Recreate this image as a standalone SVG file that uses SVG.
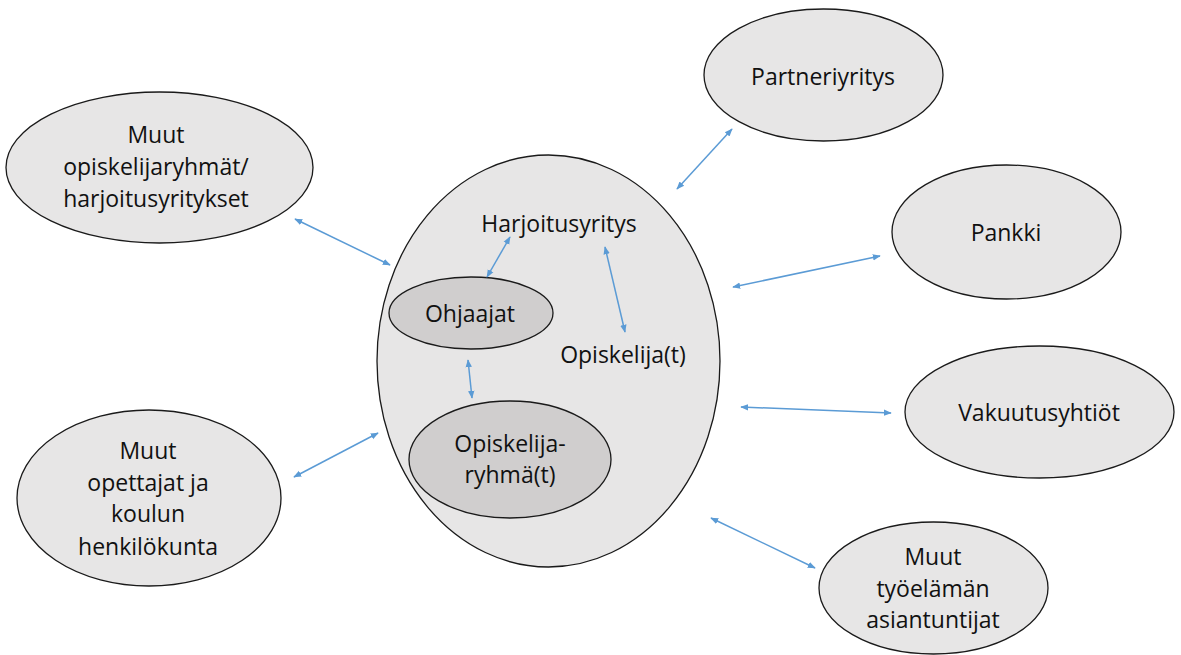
<svg xmlns="http://www.w3.org/2000/svg" width="1181" height="655" viewBox="0 0 1181 655">
<style>
.n{fill:#E7E6E6;stroke:#1a1a1a;stroke-width:1.3}
.i{fill:#D0CECE;stroke:#1a1a1a;stroke-width:1.3}
text{font-family:"Open Sans","Liberation Sans",Arial,sans-serif;font-size:23px;fill:#111;text-anchor:middle}
.c line{stroke:#5B9BD5;stroke-width:1.5;marker-start:url(#a);marker-end:url(#a)}
</style>
<defs>
<marker id="a" viewBox="0 0 10 10" refX="9" refY="5" markerWidth="8" markerHeight="8" markerUnits="userSpaceOnUse" orient="auto-start-reverse">
<path d="M0,1 L10,5 L0,9 z" fill="#5B9BD5"/>
</marker>
</defs>
<rect width="1181" height="655" fill="#fff"/>
<g id="center">
<ellipse class="n" cx="548.5" cy="361" rx="171.5" ry="206"/>
<text x="559" y="232">Harjoitusyritys</text>
<text x="623" y="363">Opiskelija(t)</text>
</g>
<g id="ohjaajat">
<ellipse class="i" cx="471" cy="313" rx="82" ry="36"/>
<text x="470" y="322">Ohjaajat</text>
</g>
<g id="opiskelijaryhma">
<ellipse class="i" cx="510" cy="459.5" rx="101" ry="58.5"/>
<text x="510" y="452">Opiskelija-</text>
<text x="510" y="483">ryhmä(t)</text>
</g>
<g id="partneriyritys">
<ellipse class="n" cx="823.5" cy="75" rx="119.5" ry="66"/>
<text x="823" y="85">Partneriyritys</text>
</g>
<g id="pankki">
<ellipse class="n" cx="1006.5" cy="232" rx="114.5" ry="67"/>
<text x="1006" y="241">Pankki</text>
</g>
<g id="vakuutusyhtiot">
<ellipse class="n" cx="1039.5" cy="412" rx="134.5" ry="66"/>
<text x="1039" y="421">Vakuutusyhtiöt</text>
</g>
<g id="tyoelama">
<ellipse class="n" cx="933.5" cy="588" rx="114.5" ry="66"/>
<text x="933" y="565">Muut</text>
<text x="933" y="597">työelämän</text>
<text x="933" y="628">asiantuntijat</text>
</g>
<g id="opiskelijaryhmat">
<ellipse class="n" cx="159.5" cy="167.5" rx="153.5" ry="75.5"/>
<text x="156" y="143">Muut</text>
<text x="156" y="175">opiskelijaryhmät/</text>
<text x="156" y="207">harjoitusyritykset</text>
</g>
<g id="opettajat">
<ellipse class="n" cx="149" cy="498" rx="132" ry="88"/>
<text x="148" y="459">Muut</text>
<text x="148" y="491">opettajat ja</text>
<text x="148" y="522">koulun</text>
<text x="148" y="555">henkilökunta</text>
</g>
<g id="connectors" class="c">
<line x1="677" y1="189" x2="732" y2="129"/>
<line x1="733" y1="287" x2="880" y2="256"/>
<line x1="741" y1="407" x2="891" y2="413"/>
<line x1="711" y1="518" x2="815" y2="568"/>
<line x1="295" y1="219" x2="390" y2="265"/>
<line x1="294" y1="477" x2="378" y2="433"/>
<line x1="510" y1="237" x2="487" y2="277"/>
<line x1="605" y1="247" x2="625" y2="332"/>
<line x1="468" y1="360" x2="472" y2="398"/>
</g>
</svg>
